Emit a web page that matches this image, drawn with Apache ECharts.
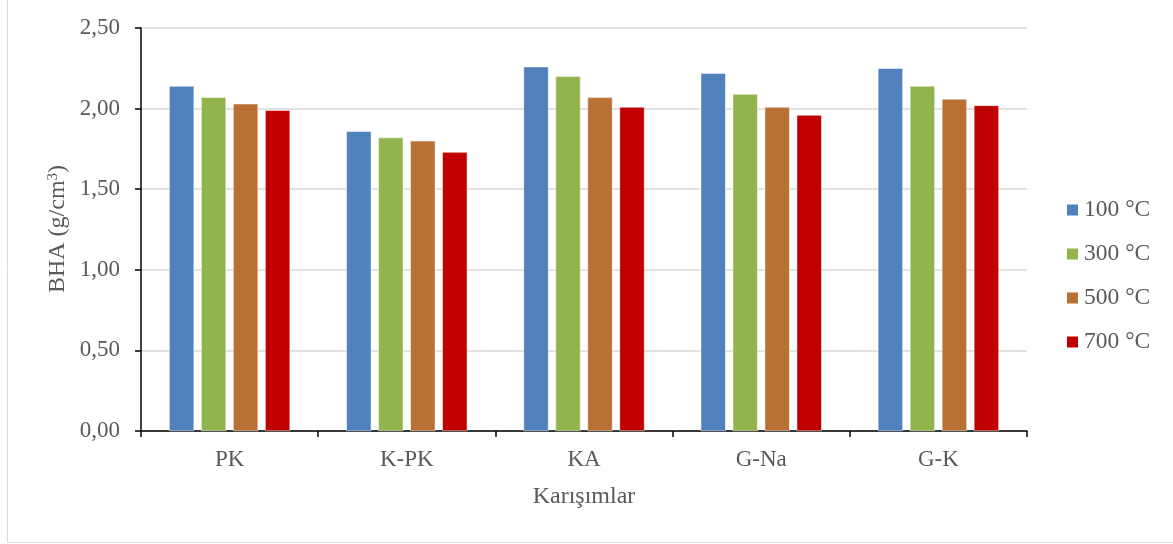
<!DOCTYPE html>
<html>
<head>
<meta charset="utf-8">
<script src="https://cdn.jsdelivr.net/npm/echarts@6/dist/echarts.min.js"></script>
<style>html,body{margin:0;padding:0;background:#fff;}#c{width:1173px;height:544px;}</style>
</head>
<body>
<div id="c"></div>
<script>
const categories = ['PK', 'K-PK', 'KA', 'G-Na', 'G-K'];
const seriesNames = ['100 °C', '300 °C', '500 °C', '700 °C'];
const s100 = [2.14, 1.86, 2.26, 2.22, 2.25];
const s300 = [2.07, 1.82, 2.20, 2.09, 2.14];
const s500 = [2.03, 1.80, 2.07, 2.01, 2.06];
const s700 = [1.99, 1.73, 2.01, 1.96, 2.02];
const colors = ['#4F81BD', '#92B44C', '#B97034', '#C00000'];

const FONT = '"Liberation Serif", "Times New Roman", serif';
const chart = echarts.init(document.getElementById('c'));
const data = [s100, s300, s500, s700];
chart.setOption({
  animation: false,
  textStyle: { fontFamily: FONT },
  grid: { left: 141, right: 146, top: 28, bottom: 113, containLabel: false },
  legend: {
    orient: 'vertical', left: 1060, top: 193,
    itemWidth: 13, itemHeight: 13, itemGap: 20,
    icon: 'rect',
    textStyle: { fontFamily: FONT, fontSize: 23.5, lineHeight: 22, color: '#595959', padding: [0, 0, 0, 0] },
    data: seriesNames
  },
  xAxis: {
    type: 'category', data: categories,
    name: 'Karışımlar', nameLocation: 'middle', nameGap: 54,
    nameTextStyle: { fontFamily: FONT, fontSize: 24, color: '#595959' },
    axisLine: { lineStyle: { color: '#000', width: 1.5 } },
    axisTick: { show: true, length: 6, lineStyle: { color: '#000', width: 1.5 } },
    axisLabel: { fontFamily: FONT, fontSize: 23, color: '#595959', margin: 17 }
  },
  yAxis: {
    type: 'value', min: 0, max: 2.5, interval: 0.5,
    axisLine: { show: true, lineStyle: { color: '#000', width: 1.5 } },
    axisTick: { show: true, length: 6, lineStyle: { color: '#000', width: 1.5 } },
    splitLine: { lineStyle: { color: '#D9D9D9', width: 1.5 } },
    axisLabel: {
      fontFamily: FONT, fontSize: 23, color: '#595959', margin: 21,
      formatter: v => v.toFixed(2).replace('.', ',')
    }
  },
  graphic: [
    { type: 'rect', shape: { x: 7.5, y: -2, width: 1200, height: 544.5 }, style: { fill: 'none', stroke: '#D9D9D9', lineWidth: 1 }, silent: true, z: -1 },
    { type: 'text', x: 58, y: 229, rotation: Math.PI / 2,
      style: { text: 'BHA (g/cm{s|3})', fontSize: 24, fontFamily: FONT, fill: '#595959', align: 'center', verticalAlign: 'middle',
        rich: { s: { fontSize: 15, fontFamily: FONT, fill: '#595959', verticalAlign: 'top', padding: [0, 0, 9, 0] } } } }
  ],
  series: seriesNames.map((n, i) => ({
    name: n, type: 'bar', data: data[i],
    barWidth: 25, barGap: '28%',
    itemStyle: { color: colors[i], borderColor: '#fff', borderWidth: 0.5 }
  }))
});
</script>
</body>
</html>
